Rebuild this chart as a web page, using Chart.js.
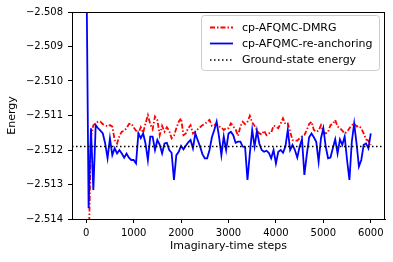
<!DOCTYPE html>
<html>
<head>
<meta charset="utf-8">
<script src="https://cdn.jsdelivr.net/npm/chart.js@4/dist/chart.umd.min.js"></script>
<style>
  body { margin: 0; background: #fff; }
  canvas { display: block; }
</style>
</head>
<body>
<canvas id="chart" width="393" height="262"></canvas>
<script>
// imaginary-time steps (every 50)
var steps = [];
for (var i = 0; i <= 120; i++) steps.push(i * 50);

var blueEnergy = [
  -2.50600, -2.51369, -2.51137, -2.51316, -2.51128, -2.51137, -2.51144, -2.51152, -2.51181, -2.51224,
  -2.51166, -2.51215, -2.51195, -2.51210, -2.51200, -2.51210, -2.51222, -2.51210, -2.51222, -2.51229,
  -2.51229, -2.51239, -2.51152, -2.51166, -2.51152, -2.51181, -2.51229, -2.51161, -2.51161, -2.51200,
  -2.51171, -2.51185, -2.51210, -2.51181, -2.51179, -2.51200, -2.51208, -2.51287, -2.51215, -2.51205,
  -2.51188, -2.51198, -2.51188, -2.51178, -2.51171, -2.51195, -2.51152, -2.51171, -2.51190, -2.51212,
  -2.51224, -2.51224, -2.51200, -2.51163, -2.51142, -2.51118, -2.51161, -2.51215, -2.51161, -2.51200,
  -2.51152, -2.51147, -2.51157, -2.51179, -2.51176, -2.51176, -2.51190, -2.51192, -2.51287, -2.51210,
  -2.51142, -2.51190, -2.51144, -2.51181, -2.51200, -2.51205, -2.51202, -2.51208, -2.51224, -2.51200,
  -2.51239, -2.51205, -2.51200, -2.51208, -2.51190, -2.51142, -2.51200, -2.51185, -2.51200, -2.51222,
  -2.51190, -2.51169, -2.51272, -2.51215, -2.51163, -2.51152, -2.51163, -2.51176, -2.51234, -2.51166,
  -2.51137, -2.51190, -2.51224, -2.51222, -2.51195, -2.51169, -2.51210, -2.51169, -2.51185, -2.51161,
  -2.51229, -2.51287, -2.51176, -2.51123, -2.51181, -2.51248, -2.51229, -2.51185, -2.51181, -2.51195,
  -2.51152
];

// red series starts at step 50
var redEnergy = [
  null, -2.51500, -2.51161, -2.51128, -2.51123, -2.51118, -2.51118, -2.51125, -2.51128, -2.51132,
  -2.51128, -2.51132, -2.51171, -2.51181, -2.51159, -2.51147, -2.51144, -2.51137, -2.51125, -2.51123,
  -2.51134, -2.51144, -2.51152, -2.51134, -2.51150, -2.51123, -2.51099, -2.51125, -2.51140, -2.51103,
  -2.51113, -2.51157, -2.51130, -2.51147, -2.51134, -2.51144, -2.51166, -2.51159, -2.51137, -2.51118,
  -2.51108, -2.51157, -2.51152, -2.51137, -2.51128, -2.51152, -2.51147, -2.51140, -2.51134, -2.51128,
  -2.51125, -2.51118, -2.51113, -2.51130, -2.51128, -2.51123, -2.51132, -2.51134, -2.51142, -2.51137,
  -2.51137, -2.51123, -2.51132, -2.51140, -2.51159, -2.51132, -2.51118, -2.51125, -2.51118, -2.51101,
  -2.51120, -2.51130, -2.51144, -2.51152, -2.51155, -2.51144, -2.51157, -2.51152, -2.51150, -2.51129,
  -2.51132, -2.51137, -2.51123, -2.51108, -2.51125, -2.51123, -2.51147, -2.51171, -2.51173, -2.51173,
  -2.51166, -2.51161, -2.51157, -2.51142, -2.51125, -2.51118, -2.51142, -2.51147, -2.51144, -2.51128,
  -2.51147, -2.51152, -2.51147, -2.51128, -2.51125, -2.51113, -2.51132, -2.51137, -2.51144, -2.51152,
  -2.51147, -2.51137, -2.51128, -2.51123, -2.51132, -2.51130, -2.51137, -2.51152, -2.51169, -2.51173,
  -2.51185
];

var groundState = -2.5119;
var xTicks = [0, 1000, 2000, 3000, 4000, 5000, 6000];
var yTicks = [-2.514, -2.513, -2.512, -2.511, -2.510, -2.509, -2.508];
var labels = ["cp-AFQMC-DMRG", "cp-AFQMC-re-anchoring", "Ground-state energy"];

function toPoints(vals) {
  var pts = [];
  vals.forEach(function(v, i) {
    if (v !== null) pts.push({x: steps[i], y: v});
  });
  return pts;
}

Chart.defaults.font.family = "'DejaVu Sans', sans-serif";
Chart.defaults.font.size = 10;
Chart.defaults.color = "#000";

var frame = {
  id: "frame",
  afterDraw: function(chart) {
    var ctx = chart.ctx, a = chart.chartArea;
    ctx.save();
    ctx.strokeStyle = "#000";
    ctx.lineWidth = 1;
    ctx.strokeRect(Math.round(a.left) + 0.5, Math.round(a.top) + 0.5,
      Math.round(a.right - a.left) - 1, Math.round(a.bottom - a.top));
    // legend box
    var lx = 201.5, ly = 15.5, lw = 178, lh = 55, r = 3;
    ctx.beginPath();
    ctx.roundRect(lx, ly, lw, lh, r);
    ctx.fillStyle = "rgba(255,255,255,0.8)";
    ctx.fill();
    ctx.strokeStyle = "#cccccc";
    ctx.stroke();
    var rows = [27.5, 43.5, 60];
    chart.data.datasets.forEach(function(ds, i) {
      ctx.beginPath();
      ctx.setLineDash(ds.borderDash || []);
      ctx.strokeStyle = ds.borderColor;
      ctx.lineWidth = ds.borderWidth;
      ctx.moveTo(210, rows[i]);
      ctx.lineTo(233, rows[i]);
      ctx.stroke();
      ctx.setLineDash([]);
      ctx.fillStyle = "#000";
      ctx.font = "11px 'DejaVu Sans'";
      ctx.textBaseline = "middle";
      ctx.fillText(ds.label, 242, rows[i] + 0.5);
    });
    ctx.restore();
  }
};

new Chart(document.getElementById("chart"), {
  type: "line",
  data: {
    datasets: [{
      label: labels[0],
      data: toPoints(redEnergy),
      borderColor: "#ff0000",
      borderWidth: 1.8,
      borderDash: [5, 2, 1.5, 2],
      pointRadius: 0,
      order: 2,
      clip: 0
    }, {
      label: labels[1],
      data: toPoints(blueEnergy),
      borderColor: "#0000ff",
      borderWidth: 1.8,
      pointRadius: 0,
      order: 1,
      clip: 0
    }, {
      label: labels[2],
      data: [{x: -300, y: groundState}, {x: 6300, y: groundState}],
      borderColor: "#000",
      borderWidth: 1.5,
      borderDash: [1.5, 2.5],
      pointRadius: 0,
      order: 0,
      clip: 0
    }]
  },
  options: {
    responsive: false,
    animation: false,
    devicePixelRatio: 1,
    layout: { padding: { top: 12, right: 8, left: 0, bottom: 0 } },
    plugins: { legend: { display: false }, tooltip: { enabled: false } },
    scales: {
      x: {
        type: "linear",
        min: -300,
        max: 6300,
        afterBuildTicks: function(scale) {
          scale.ticks = xTicks.map(function(v) { return {value: v}; });
        },
        afterFit: function(scale) { scale.height = 43; },
        ticks: { padding: 4, maxRotation: 0, callback: function(v) { return String(v); } },
        grid: { drawOnChartArea: false, tickLength: 4, color: "#000" },
        border: { display: true, color: "#000" },
        title: { display: true, text: "Imaginary-time steps", font: { size: 11 }, padding: { top: 0, bottom: 9 } }
      },
      y: {
        min: -2.514,
        max: -2.508,
        afterBuildTicks: function(scale) {
          scale.ticks = yTicks.map(function(v) { return {value: v}; });
        },
        afterFit: function(scale) { scale.width = 72; },
        ticks: {
          padding: 5,
          callback: function(v) { return "\u2212" + Math.abs(v).toFixed(3); }
        },
        grid: { drawOnChartArea: false, tickLength: 4, color: "#000" },
        border: { display: true, color: "#000" },
        title: { display: true, text: "Energy", font: { size: 11 }, padding: { top: 6, bottom: 0 } }
      }
    }
  },
  plugins: [frame]
});
</script>
</body>
</html>
